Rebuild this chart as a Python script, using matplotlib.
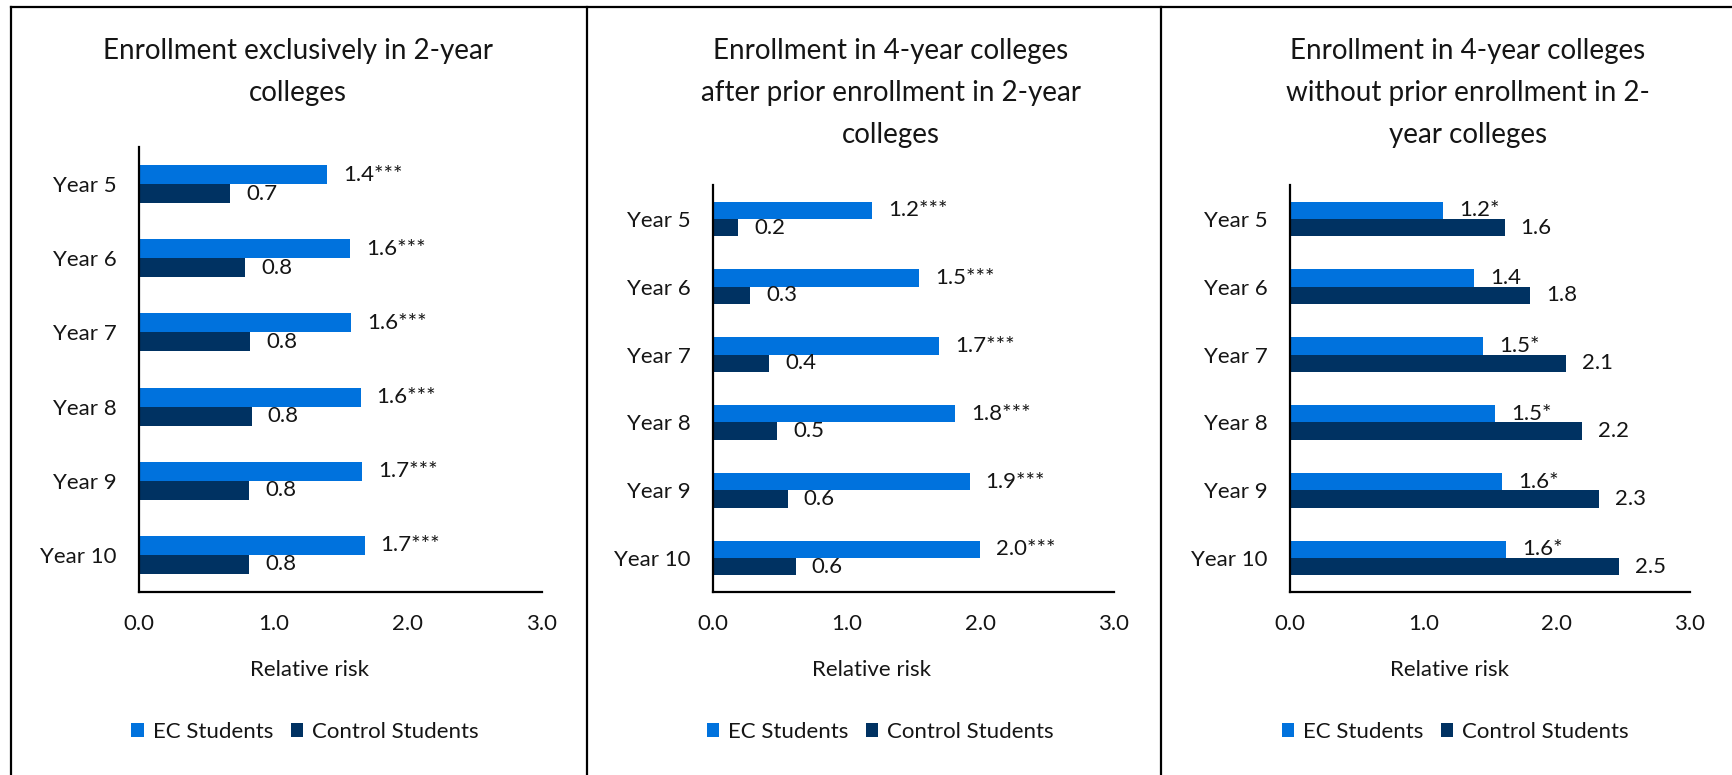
import matplotlib
matplotlib.use("Agg")
import matplotlib.pyplot as plt
from matplotlib.lines import Line2D

plt.rcParams['font.family'] = ['Lato', 'DejaVu Sans']

W, H = 1732, 775
years = ["Year 5", "Year 6", "Year 7", "Year 8", "Year 9", "Year 10"]
series_names = ["EC Students", "Control Students"]
xticks = [0.0, 1.0, 2.0, 3.0]

titles = [
    "Enrollment exclusively in 2-year\ncolleges",
    "Enrollment in 4-year colleges\nafter prior enrollment in 2-year\ncolleges",
    "Enrollment in 4-year colleges\nwithout prior enrollment in 2-\nyear colleges",
]

ec_1 = [1.40, 1.57, 1.58, 1.65, 1.66, 1.68]
ctrl_1 = [0.68, 0.79, 0.83, 0.84, 0.82, 0.82]
ec_lab_1 = ["1.4***", "1.6***", "1.6***", "1.6***", "1.7***", "1.7***"]
ctrl_lab_1 = ["0.7", "0.8", "0.8", "0.8", "0.8", "0.8"]

ec_2 = [1.19, 1.54, 1.69, 1.81, 1.92, 2.00]
ctrl_2 = [0.19, 0.28, 0.42, 0.48, 0.56, 0.62]
ec_lab_2 = ["1.2***", "1.5***", "1.7***", "1.8***", "1.9***", "2.0***"]
ctrl_lab_2 = ["0.2", "0.3", "0.4", "0.5", "0.6", "0.6"]

ec_3 = [1.15, 1.38, 1.45, 1.54, 1.59, 1.62]
ctrl_3 = [1.61, 1.80, 2.07, 2.19, 2.32, 2.47]
ec_lab_3 = ["1.2*", "1.4", "1.5*", "1.5*", "1.6*", "1.6*"]
ctrl_lab_3 = ["1.6", "1.8", "2.1", "2.2", "2.3", "2.5"]

EC_COLOR = "#0072DD"
CTRL_COLOR = "#003262"
TXT = "#151515"

panels = [
    dict(ec=ec_1, ctrl=ctrl_1, ecl=ec_lab_1, ctl=ctrl_lab_1, box=(139, 147, 542, 592),
         title_x=298, label_x=309, legend_x=305),
    dict(ec=ec_2, ctrl=ctrl_2, ecl=ec_lab_2, ctl=ctrl_lab_2, box=(713, 185, 1114, 592),
         title_x=891, label_x=872, legend_x=880),
    dict(ec=ec_3, ctrl=ctrl_3, ecl=ec_lab_3, ctl=ctrl_lab_3, box=(1290, 185, 1690, 592),
         title_x=1468, label_x=1450, legend_x=1455),
]

FS = 16
fig = plt.figure(figsize=(W / 100, H / 100), dpi=100)
fig.patch.set_facecolor("white")

bh = 0.256
for i, p in enumerate(panels):
    x0, y0, x1, y1 = p["box"]
    ax = fig.add_axes([x0 / W, 1 - y1 / H, (x1 - x0) / W, (y1 - y0) / H])
    pos = list(range(len(years)))
    b1 = ax.barh([k - bh / 2 for k in pos], p["ec"], height=bh, color=EC_COLOR, label=series_names[0])
    b2 = ax.barh([k + bh / 2 for k in pos], p["ctrl"], height=bh, color=CTRL_COLOR, label=series_names[1])
    for k in pos:
        ax.annotate(p["ecl"][k], xy=(p["ec"][k], k - bh / 2), xytext=(11.5, 0),
                    textcoords="offset points", va="center", ha="left", fontsize=FS, color=TXT)
        ax.annotate(p["ctl"][k], xy=(p["ctrl"][k], k + bh / 2), xytext=(11.5, 0),
                    textcoords="offset points", va="center", ha="left", fontsize=FS, color=TXT)
    ax.set_ylim(len(years) - 0.5, -0.5)
    ax.set_xlim(0, 3.0)
    ax.set_xticks(xticks)
    ax.set_xticklabels([f"{t:.1f}" for t in xticks])
    ax.set_yticks(pos)
    ax.set_yticklabels(years)
    ax.tick_params(axis="both", length=0, labelsize=FS, colors=TXT)
    ax.tick_params(axis="y", pad=16)
    ax.tick_params(axis="x", pad=16)
    for s in ["top", "right"]:
        ax.spines[s].set_visible(False)
    for s in ["left", "bottom"]:
        ax.spines[s].set_linewidth(1.6)
        ax.spines[s].set_color("black")
    ax.set_facecolor("none")

    fig.text(p["title_x"] / W, 1 - 38 / H, titles[i], ha="center", va="top",
             fontsize=20, color=TXT, linespacing=1.75)
    fig.text(p["label_x"] / W, 1 - 670 / H, "Relative risk", ha="center", va="center",
             fontsize=FS, color=TXT)
    fig.legend(handles=[b1, b2], labels=series_names, loc="center",
               bbox_to_anchor=(p["legend_x"] / W, 1 - 732 / H), ncol=2, frameon=False,
               fontsize=FS, handlelength=0.55, handleheight=0.55, handletextpad=0.4,
               columnspacing=0.8, labelcolor=TXT)

# panel borders
top = 1 - 7 / H
fig.add_artist(Line2D([11 / W, 1.0], [top, top], color="black", lw=1.6, transform=fig.transFigure))
for xb in [11, 587, 1161]:
    fig.add_artist(Line2D([xb / W, xb / W], [0, top], color="black", lw=1.6, transform=fig.transFigure))

fig.savefig("out.png", dpi=100, facecolor="white")
